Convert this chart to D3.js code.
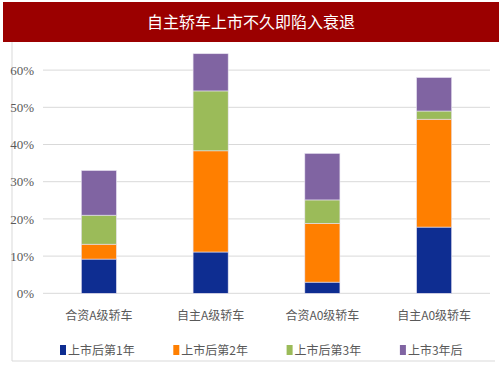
<!DOCTYPE html>
<html>
<head>
<meta charset="utf-8">
<script src="https://cdn.jsdelivr.net/npm/d3@7"></script>
<style>
body { margin: 0; background: #fff; }
svg { display: block; }
</style>
</head>
<body>
<script>
(function(){

//chart data
var title = "自主轿车上市不久即陷入衰退";
var categories = ["合资A级轿车", "自主A级轿车", "合资A0级轿车", "自主A0级轿车"];
var seriesNames = ["上市后第1年", "上市后第2年", "上市后第3年", "上市3年后"];
var year1 = [0.092, 0.111, 0.030, 0.178];
var year2 = [0.040, 0.272, 0.158, 0.290];
var year3 = [0.078, 0.161, 0.063, 0.022];
var after3 = [0.120, 0.100, 0.125, 0.090];
var tickValues = [0, 0.1, 0.2, 0.3, 0.4, 0.5, 0.6];
var colors = ["#0E2D91", "#FF7F00", "#9BBB59", "#8064A2"];

var width = 503, height = 378;

var svg = d3.select("body").append("svg")
    .attr("width", width)
    .attr("height", height);

//title banner
svg.append("rect")
    .attr("x", 3).attr("y", 2)
    .attr("width", 496).attr("height", 40)
    .attr("fill", "#9B0000");

svg.append("text")
    .attr("x", 251).attr("y", 28)
    .attr("text-anchor", "middle")
    .attr("fill", "#fff")
    .style("font-family", "'Noto Sans CJK SC', sans-serif")
    .style("font-size", "16px")
    .text(title);

//frame lines
svg.append("line")
    .attr("x1", 12).attr("x2", 12).attr("y1", 42).attr("y2", 361)
    .attr("stroke", "#d9d9d9");
svg.append("line")
    .attr("x1", 12).attr("x2", 495).attr("y1", 361).attr("y2", 361)
    .attr("stroke", "#d9d9d9");

var x = d3.scaleBand()
    .domain(categories)
    .range([43, 490])
    .paddingInner(0.686)
    .paddingOuter(0.343);

var y = d3.scaleLinear()
    .domain([0, 0.6])
    .range([293.3, 70.1]);

//gridlines
svg.append("g")
    .selectAll("line")
    .data(tickValues)
    .enter()
    .append("line")
    .attr("x1", 43).attr("x2", 490)
    .attr("y1", function(d){ return y(d); })
    .attr("y2", function(d){ return y(d); })
    .attr("stroke", "#d9d9d9")
    .attr("stroke-width", 1);

//y axis labels
var yAxis = d3.axisLeft(y)
    .tickValues(tickValues)
    .tickFormat(d3.format(".0%"))
    .tickSize(0)
    .tickPadding(0);

var gy = svg.append("g")
    .attr("transform", "translate(34,0)")
    .call(yAxis);
gy.select(".domain").remove();
gy.selectAll("text")
    .attr("fill", "#595959")
    .style("font-family", "'Liberation Serif', serif")
    .style("font-size", "13px")
    .attr("transform", function(){ return null; });

//stack data
var rows = categories.map(function(c, i){
    return { cat: c, s0: year1[i], s1: year2[i], s2: year3[i], s3: after3[i] };
});
var stack = d3.stack().keys(["s0", "s1", "s2", "s3"]);
var layers = stack(rows);

svg.append("g")
    .selectAll("g")
    .data(layers)
    .enter()
    .append("g")
    .attr("fill", function(d, i){ return colors[i]; })
    .selectAll("rect")
    .data(function(d){ return d; })
    .enter()
    .append("rect")
    .attr("x", function(d){ return x(d.data.cat); })
    .attr("width", x.bandwidth())
    .attr("y", function(d){ return y(d[1]); })
    .attr("height", function(d){ return y(d[0]) - y(d[1]); })
    .attr("stroke", "#e6e1f0")
    .attr("stroke-width", 0.6);

//category labels
var xAxis = d3.axisBottom(x).tickSize(0).tickPadding(0);
var gx = svg.append("g")
    .attr("transform", "translate(0,311)")
    .call(xAxis);
gx.select(".domain").remove();
gx.selectAll("text")
    .attr("fill", "#595959")
    .style("font-family", "'Noto Sans CJK SC', sans-serif")
    .style("font-size", "12px");

//legend
var legend = svg.append("g")
    .selectAll("g")
    .data(seriesNames)
    .enter()
    .append("g")
    .attr("transform", function(d, i){ return "translate(" + (60 + i * 113.3) + ",345)"; });

legend.append("rect")
    .attr("width", 6).attr("height", 10)
    .attr("fill", function(d, i){ return colors[i]; });

legend.append("text")
    .attr("x", 8).attr("y", 10)
    .attr("fill", "#595959")
    .style("font-family", "'Noto Sans CJK SC', sans-serif")
    .style("font-size", "12px")
    .text(function(d){ return d; });

})();
</script>
</body>
</html>
